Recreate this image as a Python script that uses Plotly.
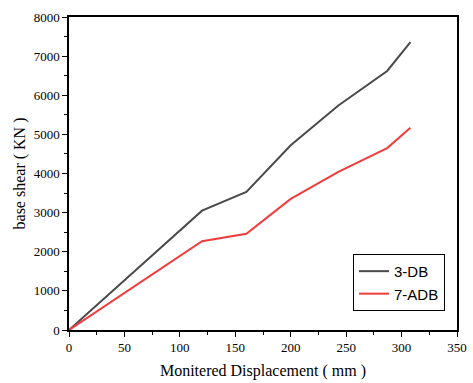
import plotly.graph_objects as go

disp_db = [0, 120, 160, 200, 243, 287, 308]
shear_db = [0, 3050, 3530, 4720, 5740, 6620, 7360]
disp_adb = [0, 120, 160, 200, 243, 287, 308]
shear_adb = [0, 2270, 2460, 3350, 4040, 4650, 5170]

fig = go.Figure()
fig.add_trace(go.Scatter(x=disp_db, y=shear_db, mode="lines", name="3-DB",
                         line=dict(color="#4a4a4a", width=2)))
fig.add_trace(go.Scatter(x=disp_adb, y=shear_adb, mode="lines", name="7-ADB",
                         line=dict(color="#f03c3c", width=2)))

serif = "Liberation Serif"
fig.update_layout(
    width=473, height=383,
    autosize=False,
    margin=dict(l=69, r=16, t=17, b=53, autoexpand=False),
    plot_bgcolor="white", paper_bgcolor="white",
    showlegend=True,
    legend=dict(x=0.732, y=0.061, xanchor="left", yanchor="bottom",
                bordercolor="black", borderwidth=1, bgcolor="white",
                font=dict(family="Liberation Sans", size=15, color="black"),
                tracegroupgap=0, itemwidth=30),
    xaxis=dict(range=[0, 350], dtick=50, tick0=0, showgrid=False, zeroline=False,
               automargin=False,
               showline=True, linecolor="black", linewidth=1.5, mirror=True,
               ticks="outside", ticklen=5, tickcolor="black",
               minor=dict(ticks="outside", ticklen=3, dtick=25, tickcolor="black", showgrid=False),
               tickfont=dict(family=serif, size=13, color="black"),
               title=dict(text="Monitered Displacement ( mm )", font=dict(family=serif, size=16, color="black"), standoff=10)),
    yaxis=dict(range=[0, 8000], dtick=1000, tick0=0, showgrid=False, zeroline=False,
               automargin=False,
               showline=True, linecolor="black", linewidth=1.5, mirror=True,
               ticks="outside", ticklen=5, tickcolor="black",
               minor=dict(ticks="outside", ticklen=3, dtick=500, tickcolor="black", showgrid=False),
               tickfont=dict(family=serif, size=13, color="black"),
               title=dict(text="base shear ( KN )", font=dict(family=serif, size=16, color="black"), standoff=4)),
)
fig.write_html("out.html", config={"displayModeBar": False},
               post_script="document.body.style.margin='0';")
